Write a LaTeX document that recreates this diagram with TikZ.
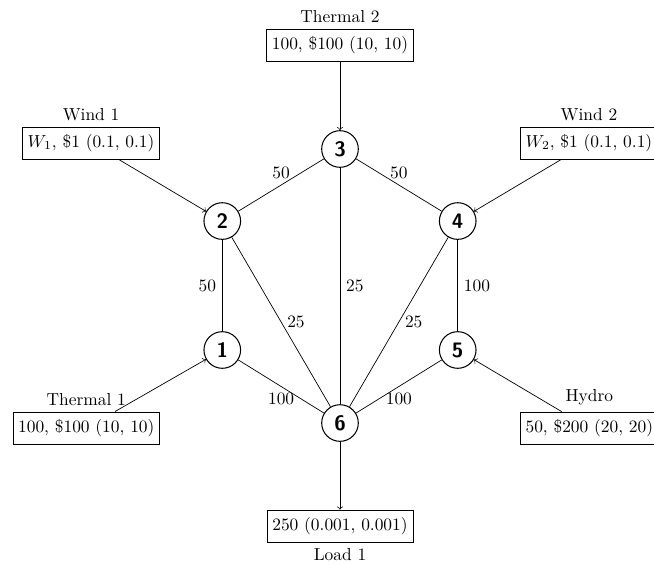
\documentclass[tikz,border=0pt]{standalone}
\usepackage{tikz}
\usetikzlibrary{positioning}

\begin{document}
\begin{tikzpicture}[
    bus/.style={draw, semithick, circle, minimum size=0.74cm, inner sep=0pt, font=\large\sffamily\bfseries},
    unit/.style={draw, minimum height=0.65cm, inner sep=3pt}
  ]
    \useasboundingbox (-6.868,-2.848) rectangle (6.343,8.545);

    % Buses
    \node[bus] (n6) at (0,0) {6};
    \node[bus] (n1) at (-2.378,1.475) {1};
    \node[bus] (n5) at (2.378,1.475) {5};
    \node[bus] (n2) at (-2.378,4.08) {2};
    \node[bus] (n4) at (2.378,4.08) {4};
    \node[bus] (n3) at (0,5.535) {3};

    % Generators and load
    \node[unit, label=above:Thermal 2] (t2) at (0,7.636) {100, \$100 (10, 10)};
    \node[unit, anchor=east, label=above:Wind 1] (w1) at (-3.636,5.656) {$W_1$, \$1 (0.1, 0.1)};
    \node[unit, anchor=west, label=above:Wind 2] (w2) at (3.636,5.656) {$W_2$, \$1 (0.1, 0.1)};
    \node[unit, anchor=east, label=above:Thermal 1] (t1) at (-3.636,-0.101) {100, \$100 (10, 10)};
    \node[unit, anchor=west, label=above:Hydro] (hy) at (3.636,-0.101) {50, \$200 (20, 20)};
    \node[unit, label=below:Load 1] (ld) at (0,-2.081) {250 (0.001, 0.001)};

    % Lines
    \draw (n2) -- node[midway, above] {50} (n3);
    \draw (n3) -- node[midway, above] {50} (n4);
    \draw (n1) -- node[midway, left] {50} (n2);
    \draw (n2) -- node[midway, right] {25} (n6);
    \draw (n3) -- node[midway, right] {25} (n6);
    \draw (n4) -- node[midway, right] {25} (n6);
    \draw (n4) -- node[midway, right] {100} (n5);
    \draw (n1) -- node[midway, below] {100} (n6);
    \draw (n5) -- node[midway, below] {100} (n6);

    % Injections
    \draw[->] (t2) -- (n3);
    \draw[->] (w1) -- (n2);
    \draw[->] (w2) -- (n4);
    \draw[->] (t1) -- (n1);
    \draw[->] (hy) -- (n5);
    \draw[->] (n6) -- (ld);
\end{tikzpicture}
\end{document}
